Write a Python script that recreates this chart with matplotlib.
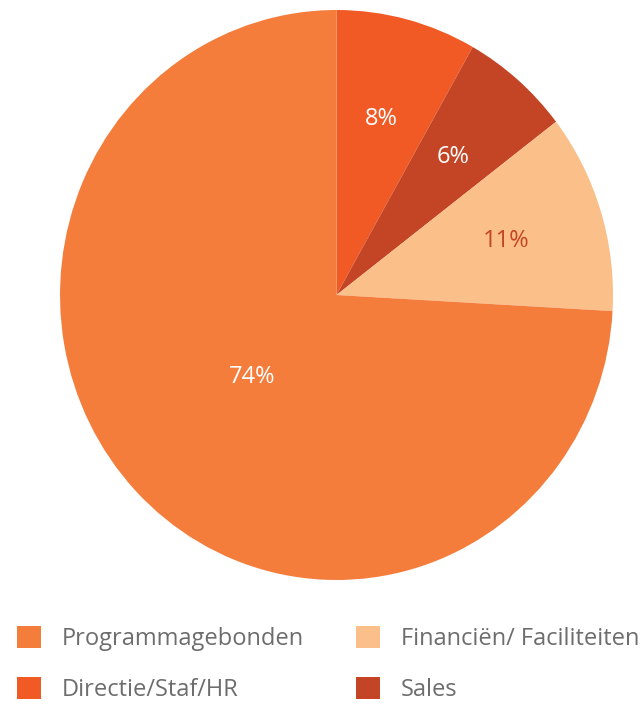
import matplotlib.pyplot as plt
from matplotlib.patches import Patch

plt.rcParams['font.family'] = ['Open Sans', 'DejaVu Sans']

# slices drawn clockwise from 12 o'clock
labels = ['Directie/Staf/HR', 'Sales', 'Financiën/ Faciliteiten', 'Programmagebonden']
shares = [8.2, 6.4, 11.3, 74.1]
colors = ['#F15A24', '#C44526', '#FBBF8A', '#F47D3C']
pct_colors = ['white', 'white', '#C44526', 'white']

legend_order = ['Programmagebonden', 'Directie/Staf/HR', 'Financiën/ Faciliteiten', 'Sales']

fig = plt.figure(figsize=(6.43, 7.04), dpi=100)
# the original pie is slightly taller than wide
ax = fig.add_axes([60 / 643, 124 / 704, 553 / 643, 570 / 704])

wedges, texts, autotexts = ax.pie(shares, colors=colors, startangle=90, counterclock=False,
                                  autopct='%.0f%%', pctdistance=0.64,
                                  wedgeprops=dict(linewidth=0))
for t, c in zip(autotexts, pct_colors):
    t.set_color(c)
    t.set_fontsize(17)
# big slice label sits closer to the centre
x, y = autotexts[3].get_position()
autotexts[3].set_position((x * 0.42 / 0.64, y * 0.42 / 0.64))
ax.set_xlim(-1, 1)
ax.set_ylim(-1, 1)
ax.set_aspect('auto')

handles = [Patch(facecolor=colors[labels.index(l)], label=l) for l in legend_order]
fig.legend(handles=handles, ncol=2, loc='upper left', bbox_to_anchor=(17 / 643, 1 - 626 / 704),
           frameon=False, fontsize=17, labelcolor='#6D6D6D', handlelength=1.0, handleheight=1.05,
           handletextpad=0.9, columnspacing=2.2, labelspacing=1.12, borderpad=0, borderaxespad=0)

plt.savefig('out.png', dpi=100)
